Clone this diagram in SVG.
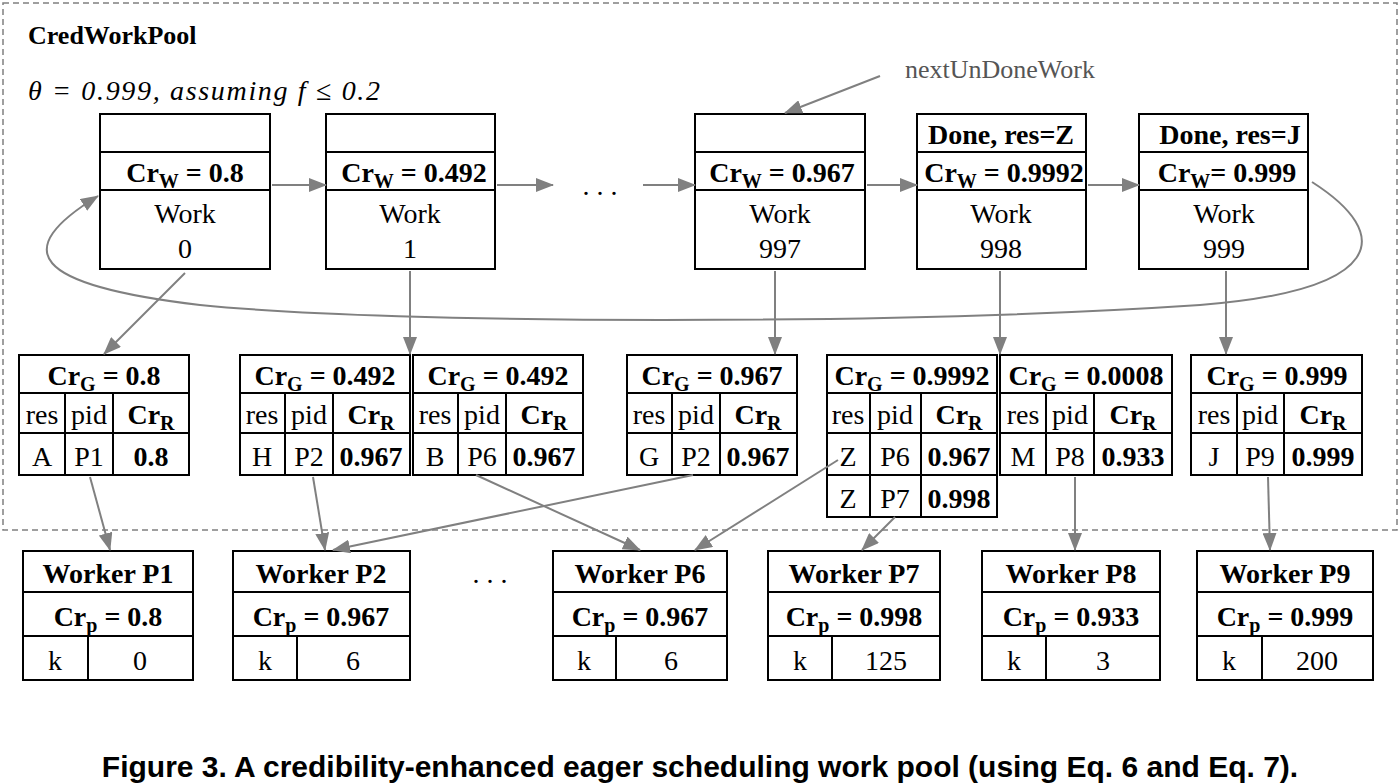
<svg xmlns="http://www.w3.org/2000/svg" width="1400" height="784" viewBox="0 0 1400 784">
<style>
text{font-family:"Liberation Serif",serif;font-size:28px;fill:#000;text-anchor:middle}
.b{font-weight:bold}
.s{font-size:20px}
rect{fill:#fff;stroke:#000;stroke-width:2}
line.c,path.c{stroke:#808080;stroke-width:2;fill:none}
.g line{stroke:#000;stroke-width:2}
</style>
<defs><marker id="A" markerWidth="18" markerHeight="14" refX="17" refY="7" orient="auto" markerUnits="userSpaceOnUse" viewBox="0 0 18 14"><path d="M0,0L18,7L0,14z" fill="#808080"/></marker></defs>
<rect x="3" y="3" width="1394" height="527" style="fill:none;stroke:#808080;stroke-dasharray:6,4;stroke-width:1.5"/>
<text x="28" y="44" class="b" style="text-anchor:start;font-size:26px">CredWorkPool</text>
<text x="28" y="100" style="text-anchor:start;font-style:italic;font-size:28px" textLength="352" lengthAdjust="spacing">θ = 0.999, assuming  f  ≤ 0.2</text>
<text x="905" y="78" style="text-anchor:start;fill:#555;font-size:26px">nextUnDoneWork</text>
<text x="600" y="195">. . .</text>
<text x="490" y="583">. . .</text>

<g id="work0" class="g"><rect x="100" y="114" width="170" height="155"/><line x1="100" y1="152" x2="270" y2="152"/><line x1="100" y1="190" x2="270" y2="190"/><text x="185" y="182" class="b">Cr<tspan class="s" dy="6">W</tspan><tspan dy="-6"> = 0.8</tspan></text><text x="185" y="223">Work</text><text x="185" y="258">0</text></g>
<g id="work1" class="g"><rect x="326" y="114" width="169" height="155"/><line x1="326" y1="152" x2="495" y2="152"/><line x1="326" y1="190" x2="495" y2="190"/><text x="414" y="182" class="b">Cr<tspan class="s" dy="6">W</tspan><tspan dy="-6"> = 0.492</tspan></text><text x="410" y="223">Work</text><text x="410" y="258">1</text></g>
<g id="work997" class="g"><rect x="695" y="114" width="170" height="155"/><line x1="695" y1="152" x2="865" y2="152"/><line x1="695" y1="190" x2="865" y2="190"/><text x="782" y="182" class="b">Cr<tspan class="s" dy="6">W</tspan><tspan dy="-6"> = 0.967</tspan></text><text x="780" y="223">Work</text><text x="780" y="258">997</text></g>
<g id="work998" class="g"><rect x="917" y="114" width="169" height="155"/><line x1="917" y1="152" x2="1086" y2="152"/><line x1="917" y1="190" x2="1086" y2="190"/><text x="1001" y="144" class="b">Done, res=Z</text><text x="1004" y="182" class="b">Cr<tspan class="s" dy="6">W</tspan><tspan dy="-6"> = 0.9992</tspan></text><text x="1001" y="223">Work</text><text x="1001" y="258">998</text></g>
<g id="work999" class="g"><rect x="1139" y="114" width="169" height="155"/><line x1="1139" y1="152" x2="1308" y2="152"/><line x1="1139" y1="190" x2="1308" y2="190"/><text x="1230" y="144" class="b">Done, res=J</text><text x="1227" y="182" class="b">Cr<tspan class="s" dy="6">W</tspan><tspan dy="-6">= 0.999</tspan></text><text x="1224" y="223">Work</text><text x="1224" y="258">999</text></g>

<g id="groupA" class="g"><rect x="19" y="355" width="170" height="120"/><line x1="19" y1="393" x2="189" y2="393"/><line x1="19" y1="433" x2="189" y2="433"/><line x1="65" y1="393" x2="65" y2="475"/><line x1="113" y1="393" x2="113" y2="475"/><text x="104" y="385" class="b">Cr<tspan class="s" dy="6">G</tspan><tspan dy="-6"> = 0.8</tspan></text><text x="42" y="424">res</text><text x="89" y="424">pid</text><text x="151" y="424" class="b">Cr<tspan class="s" dy="6">R</tspan></text><text x="42" y="466">A</text><text x="89" y="466">P1</text><text x="151" y="466" class="b">0.8</text></g>
<g id="groupH" class="g"><rect x="240" y="355" width="170" height="120"/><line x1="240" y1="393" x2="410" y2="393"/><line x1="240" y1="433" x2="410" y2="433"/><line x1="285" y1="393" x2="285" y2="475"/><line x1="333" y1="393" x2="333" y2="475"/><text x="325" y="385" class="b">Cr<tspan class="s" dy="6">G</tspan><tspan dy="-6"> = 0.492</tspan></text><text x="262" y="424">res</text><text x="309" y="424">pid</text><text x="371" y="424" class="b">Cr<tspan class="s" dy="6">R</tspan></text><text x="262" y="466">H</text><text x="309" y="466">P2</text><text x="371" y="466" class="b">0.967</text></g>
<g id="groupB" class="g"><rect x="413" y="355" width="170" height="120"/><line x1="413" y1="393" x2="583" y2="393"/><line x1="413" y1="433" x2="583" y2="433"/><line x1="458" y1="393" x2="458" y2="475"/><line x1="506" y1="393" x2="506" y2="475"/><text x="498" y="385" class="b">Cr<tspan class="s" dy="6">G</tspan><tspan dy="-6"> = 0.492</tspan></text><text x="435" y="424">res</text><text x="482" y="424">pid</text><text x="544" y="424" class="b">Cr<tspan class="s" dy="6">R</tspan></text><text x="435" y="466">B</text><text x="482" y="466">P6</text><text x="544" y="466" class="b">0.967</text></g>
<g id="groupG" class="g"><rect x="627" y="355" width="170" height="120"/><line x1="627" y1="393" x2="797" y2="393"/><line x1="627" y1="433" x2="797" y2="433"/><line x1="672" y1="393" x2="672" y2="475"/><line x1="720" y1="393" x2="720" y2="475"/><text x="712" y="385" class="b">Cr<tspan class="s" dy="6">G</tspan><tspan dy="-6"> = 0.967</tspan></text><text x="649" y="424">res</text><text x="696" y="424">pid</text><text x="758" y="424" class="b">Cr<tspan class="s" dy="6">R</tspan></text><text x="649" y="466">G</text><text x="696" y="466">P2</text><text x="758" y="466" class="b">0.967</text></g>
<g id="groupZ" class="g"><rect x="827" y="355" width="170" height="162"/><line x1="827" y1="393" x2="997" y2="393"/><line x1="827" y1="433" x2="997" y2="433"/><line x1="827" y1="475" x2="997" y2="475"/><line x1="870" y1="393" x2="870" y2="517"/><line x1="921" y1="393" x2="921" y2="517"/><text x="912" y="385" class="b">Cr<tspan class="s" dy="6">G</tspan><tspan dy="-6"> = 0.9992</tspan></text><text x="848" y="424">res</text><text x="895" y="424">pid</text><text x="959" y="424" class="b">Cr<tspan class="s" dy="6">R</tspan></text><text x="848" y="466">Z</text><text x="895" y="466">P6</text><text x="959" y="466" class="b">0.967</text><text x="848" y="508">Z</text><text x="895" y="508">P7</text><text x="959" y="508" class="b">0.998</text></g>
<g id="groupM" class="g"><rect x="1000" y="355" width="172" height="120"/><line x1="1000" y1="393" x2="1172" y2="393"/><line x1="1000" y1="433" x2="1172" y2="433"/><line x1="1046" y1="393" x2="1046" y2="475"/><line x1="1094" y1="393" x2="1094" y2="475"/><text x="1086" y="385" class="b">Cr<tspan class="s" dy="6">G</tspan><tspan dy="-6"> = 0.0008</tspan></text><text x="1023" y="424">res</text><text x="1070" y="424">pid</text><text x="1133" y="424" class="b">Cr<tspan class="s" dy="6">R</tspan></text><text x="1023" y="466">M</text><text x="1070" y="466">P8</text><text x="1133" y="466" class="b">0.933</text></g>
<g id="groupJ" class="g"><rect x="1191" y="355" width="171" height="120"/><line x1="1191" y1="393" x2="1362" y2="393"/><line x1="1191" y1="433" x2="1362" y2="433"/><line x1="1237" y1="393" x2="1237" y2="475"/><line x1="1284" y1="393" x2="1284" y2="475"/><text x="1277" y="385" class="b">Cr<tspan class="s" dy="6">G</tspan><tspan dy="-6"> = 0.999</tspan></text><text x="1214" y="424">res</text><text x="1260" y="424">pid</text><text x="1323" y="424" class="b">Cr<tspan class="s" dy="6">R</tspan></text><text x="1214" y="466">J</text><text x="1260" y="466">P9</text><text x="1323" y="466" class="b">0.999</text></g>

<g id="workerP1" class="g"><rect x="23" y="551" width="170" height="129"/><line x1="23" y1="592" x2="193" y2="592"/><line x1="23" y1="636" x2="193" y2="636"/><line x1="88" y1="636" x2="88" y2="680"/><text x="108" y="583" class="b">Worker P1</text><text x="108" y="626" class="b">Cr<tspan class="s" dy="6">p</tspan><tspan dy="-6"> = 0.8</tspan></text><text x="55" y="670">k</text><text x="140" y="670">0</text></g>
<g id="workerP2" class="g"><rect x="233" y="551" width="177" height="129"/><line x1="233" y1="592" x2="410" y2="592"/><line x1="233" y1="636" x2="410" y2="636"/><line x1="297" y1="636" x2="297" y2="680"/><text x="321" y="583" class="b">Worker P2</text><text x="321" y="626" class="b">Cr<tspan class="s" dy="6">p</tspan><tspan dy="-6"> = 0.967</tspan></text><text x="265" y="670">k</text><text x="353" y="670">6</text></g>
<g id="workerP6" class="g"><rect x="553" y="551" width="174" height="129"/><line x1="553" y1="592" x2="727" y2="592"/><line x1="553" y1="636" x2="727" y2="636"/><line x1="616" y1="636" x2="616" y2="680"/><text x="640" y="583" class="b">Worker P6</text><text x="640" y="626" class="b">Cr<tspan class="s" dy="6">p</tspan><tspan dy="-6"> = 0.967</tspan></text><text x="584" y="670">k</text><text x="671" y="670">6</text></g>
<g id="workerP7" class="g"><rect x="768" y="551" width="172" height="129"/><line x1="768" y1="592" x2="940" y2="592"/><line x1="768" y1="636" x2="940" y2="636"/><line x1="832" y1="636" x2="832" y2="680"/><text x="854" y="583" class="b">Worker P7</text><text x="854" y="626" class="b">Cr<tspan class="s" dy="6">p</tspan><tspan dy="-6"> = 0.998</tspan></text><text x="800" y="670">k</text><text x="886" y="670">125</text></g>
<g id="workerP8" class="g"><rect x="982" y="551" width="178" height="129"/><line x1="982" y1="592" x2="1160" y2="592"/><line x1="982" y1="636" x2="1160" y2="636"/><line x1="1046" y1="636" x2="1046" y2="680"/><text x="1071" y="583" class="b">Worker P8</text><text x="1071" y="626" class="b">Cr<tspan class="s" dy="6">p</tspan><tspan dy="-6"> = 0.933</tspan></text><text x="1014" y="670">k</text><text x="1103" y="670">3</text></g>
<g id="workerP9" class="g"><rect x="1197" y="551" width="176" height="129"/><line x1="1197" y1="592" x2="1373" y2="592"/><line x1="1197" y1="636" x2="1373" y2="636"/><line x1="1262" y1="636" x2="1262" y2="680"/><text x="1285" y="583" class="b">Worker P9</text><text x="1285" y="626" class="b">Cr<tspan class="s" dy="6">p</tspan><tspan dy="-6"> = 0.999</tspan></text><text x="1229" y="670">k</text><text x="1317" y="670">200</text></g>

<g id="connectors">
<line class="c" x1="272" y1="185" x2="326" y2="185" marker-end="url(#A)"/>
<line class="c" x1="497" y1="185" x2="553" y2="185" marker-end="url(#A)"/>
<line class="c" x1="643" y1="185" x2="695" y2="185" marker-end="url(#A)"/>
<line class="c" x1="867" y1="185" x2="917" y2="185" marker-end="url(#A)"/>
<line class="c" x1="1088" y1="185" x2="1139" y2="185" marker-end="url(#A)"/>
<path class="c" d="M1312,182 C1395,235 1385,290 1200,305 C900,325 400,325 200,305 C30,285 10,250 98,196" marker-end="url(#A)"/>
<line class="c" x1="880" y1="76" x2="785" y2="113" marker-end="url(#A)"/>
<line class="c" x1="185" y1="273" x2="104" y2="354" marker-end="url(#A)"/>
<line class="c" x1="410" y1="271" x2="410" y2="354" marker-end="url(#A)"/>
<line class="c" x1="775" y1="271" x2="775" y2="354" marker-end="url(#A)"/>
<line class="c" x1="1000" y1="271" x2="1000" y2="354" marker-end="url(#A)"/>
<line class="c" x1="1226" y1="271" x2="1226" y2="354" marker-end="url(#A)"/>
<line class="c" x1="90" y1="477" x2="110" y2="550" marker-end="url(#A)"/>
<line class="c" x1="313" y1="477" x2="325" y2="550" marker-end="url(#A)"/>
<line class="c" x1="476" y1="475" x2="640" y2="550" marker-end="url(#A)"/>
<line class="c" x1="693" y1="475" x2="333" y2="550" marker-end="url(#A)"/>
<line class="c" x1="838" y1="460" x2="695" y2="550" marker-end="url(#A)"/>
<line class="c" x1="895" y1="517" x2="862" y2="550" marker-end="url(#A)"/>
<line class="c" x1="1075" y1="477" x2="1075" y2="550" marker-end="url(#A)"/>
<line class="c" x1="1268" y1="477" x2="1270" y2="550" marker-end="url(#A)"/>
</g>
<text x="700" y="777" class="b" style="font-family:'Liberation Sans',sans-serif;font-size:30px">Figure 3. A credibility-enhanced eager scheduling work pool (using Eq. 6 and Eq. 7).</text>
</svg>
